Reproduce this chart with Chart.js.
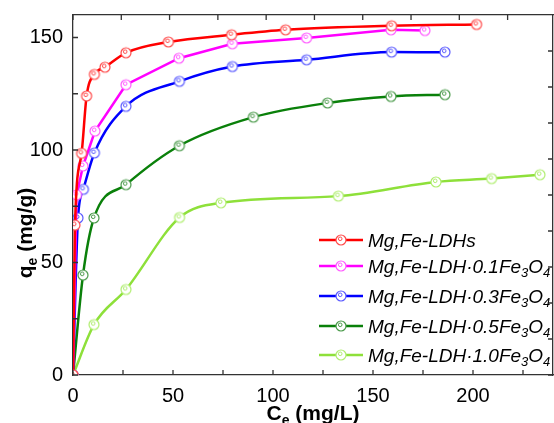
<!DOCTYPE html>
<html>
<head>
<meta charset="utf-8">
<script src="https://cdn.jsdelivr.net/npm/chart.js@4.4.1/dist/chart.umd.min.js"></script>
<style>
  html, body { margin: 0; padding: 0; background: #fff; }
  #wrap { width: 554px; height: 423px; }
</style>
</head>
<body>
<div id="wrap"><canvas id="grafico" width="554" height="423"></canvas></div>
<script>
// dados (Ce em mg/L, qe em mg/g)
const nomes = ['Mg,Fe-LDHs', 'Mg,Fe-LDH·0.1Fe_3O_4', 'Mg,Fe-LDH·0.3Fe_3O_4', 'Mg,Fe-LDH·0.5Fe_3O_4', 'Mg,Fe-LDH·1.0Fe_3O_4'];

const ceLDHs = [0, 1, 4.3, 6.8, 10.7, 16, 26.5, 47.7, 79.3, 106.3, 159.3, 201.8];
const qeLDHs = [0, 66.6, 98.5, 124, 133.6, 136.8, 143.2, 148, 151.2, 153.4, 155.2, 155.8];

const ce01 = [0, 1.8, 5, 11, 26.5, 53, 79.7, 116.8, 159, 176];
const qe01 = [0, 80, 92.9, 108.4, 129, 140.8, 147.2, 149.8, 153.4, 153.1];

const ce03 = [0, 2.5, 5.2, 10.7, 26.5, 53.2, 79.7, 116.8, 159.3, 186];
const qe03 = [0, 69.8, 82.5, 98.7, 119.4, 130.5, 137.1, 140.1, 143.5, 143.5];

const ce05 = [0, 5, 10.5, 26.5, 53.2, 90.2, 127.3, 159, 186];
const qe05 = [0, 44.4, 69.8, 84.6, 101.9, 114.6, 120.9, 123.8, 124.6];

const ce10 = [0, 10.5, 26.5, 53.3, 74, 132.7, 181.5, 209.3, 233.5];
const qe10 = [0, 22.4, 38, 70, 76.5, 79.5, 85.8, 87.3, 89];

const ticksX = [0, 25, 50, 75, 100, 125, 150, 175, 200, 225];
const ticksY = [0, 25, 50, 75, 100, 125, 150];

const coresLinha = ['#ff0000', '#ff00ff', '#0000ff', '#0a800a', '#8ee03a'];
const coresMarca = ['#ff4a4a', '#ff5cff', '#5a5aff', '#4a9a4a', '#b0ee70'];
const suave = [true, false, true, true, true];

const fonte = '"Liberation Sans", Arial, sans-serif';

// marcador: circulo aberto com bolinha dentro
function criarMarca(cor) {
    var c = document.createElement('canvas');
    c.width = 14; c.height = 14;
    var g = c.getContext('2d');
    g.fillStyle = '#fff';
    g.strokeStyle = cor;
    g.lineWidth = 1.2;
    g.beginPath(); g.arc(7, 7, 5, 0, Math.PI * 2); g.fill(); g.stroke();
    g.lineWidth = 1;
    g.beginPath(); g.arc(6.2, 5.8, 1.8, 0, Math.PI * 2); g.stroke();
    return c;
}
const marcas = coresMarca.map(criarMarca);

function pares(xs, ys) {
    return xs.map(function (x, i) { return { x: x, y: ys[i] }; });
}
const series = [pares(ceLDHs, qeLDHs), pares(ce01, qe01), pares(ce03, qe03), pares(ce05, qe05), pares(ce10, qe10)];

const datasets = series.map(function (d, i) {
    return {
        label: nomes[i],
        data: d,
        borderColor: coresLinha[i],
        borderWidth: 2.5,
        pointStyle: marcas[i],
        pointRadius: 5,
        fill: false,
        tension: suave[i] ? 0.4 : 0,
        cubicInterpolationMode: suave[i] ? 'monotone' : 'default'
    };
});

// texto com subscrito: "_3" vira 3 subscrito
function textoSub(g, txt, x, y, tam, estilo) {
    var partes = txt.split(/(_\w)/);
    partes.forEach(function (p) {
        if (!p) return;
        if (p[0] === '_') {
            g.font = estilo + ' ' + Math.round(tam * 0.68) + 'px ' + fonte;
            g.fillText(p[1], x, y + tam * 0.25);
            x += g.measureText(p[1]).width;
        } else {
            g.font = estilo + ' ' + tam + 'px ' + fonte;
            g.fillText(p, x, y);
            x += g.measureText(p).width;
        }
    });
    return x;
}
function larguraSub(g, txt, tam, estilo) {
    var w = 0;
    txt.split(/(_\w)/).forEach(function (p) {
        if (!p) return;
        if (p[0] === '_') {
            g.font = estilo + ' ' + Math.round(tam * 0.68) + 'px ' + fonte;
            w += g.measureText(p[1]).width;
        } else {
            g.font = estilo + ' ' + tam + 'px ' + fonte;
            w += g.measureText(p).width;
        }
    });
    return w;
}

// zera o espaco extra que o Chart.js reserva para os rotulos das pontas
function semPadding(sc) {
    sc.paddingTop = 0; sc.paddingBottom = 0;
    sc.paddingLeft = 0; sc.paddingRight = 0;
}

// moldura, tracinhos para dentro, legenda e titulos dos eixos
const extras = {
    id: 'extras',
    afterDraw: function (chart) {
        var g = chart.ctx;
        var a = chart.chartArea;
        var s = chart.scales;
        g.save();
        g.strokeStyle = '#333';
        g.lineWidth = 1.3;
        g.beginPath();
        s.x.ticks.forEach(function (t) {
            var px = s.x.getPixelForValue(t.value);
            g.moveTo(px, a.bottom); g.lineTo(px, a.bottom - 5);
        });
        s.x2.ticks.forEach(function (t) {
            var px = s.x2.getPixelForValue(t.value);
            g.moveTo(px, a.top); g.lineTo(px, a.top + 5);
        });
        s.y.ticks.forEach(function (t) {
            var py = s.y.getPixelForValue(t.value);
            g.moveTo(a.left, py); g.lineTo(a.left + 5, py);
        });
        s.y2.ticks.forEach(function (t) {
            var py = s.y2.getPixelForValue(t.value);
            g.moveTo(a.right, py); g.lineTo(a.right - 5, py);
        });
        g.stroke();

        // legenda
        var legY = [240, 266, 296, 326, 355];
        chart.data.datasets.forEach(function (ds, i) {
            var y = legY[i];
            g.strokeStyle = ds.borderColor;
            g.lineWidth = 2.5;
            g.beginPath(); g.moveTo(319, y); g.lineTo(363, y); g.stroke();
            g.drawImage(ds.pointStyle, 341 - 7, y - 7);
            g.fillStyle = '#000';
            g.textBaseline = 'alphabetic';
            textoSub(g, ds.label, 368, y + 6.5, 19, 'italic');
        });

        // titulos dos eixos
        g.fillStyle = '#000';
        var tx = 'C_e (mg/L)';
        var w = larguraSub(g, tx, 21, 'bold');
        textoSub(g, tx, (a.left + a.right) / 2 - w / 2, 420, 21, 'bold');

        var ty = 'q_e (mg/g)';
        w = larguraSub(g, ty, 21, 'bold');
        g.translate(32, 233);
        g.rotate(-Math.PI / 2);
        textoSub(g, ty, -w / 2, 0, 21, 'bold');
        g.restore();
    }
};

const ctx = document.getElementById('grafico');

new Chart(ctx, {
    type: 'line',
    data: { datasets: datasets },
    plugins: [extras],
    options: {
        responsive: false,
        animation: false,
        layout: { autoPadding: false, padding: { top: 15, right: 1, left: 0, bottom: 0 } },
        plugins: {
            legend: { display: false },
            tooltip: { enabled: false }
        },
        scales: {
            x: {
                type: 'linear',
                min: 0,
                max: 240,
                afterBuildTicks: function (sc) { sc.ticks = ticksX.map(function (v) { return { value: v }; }); },
                afterFit: function (sc) { sc.height = 48; semPadding(sc); },
                grid: { display: false, drawTicks: false },
                border: { display: true, color: '#333', width: 1.3 },
                ticks: {
                    padding: 9,
                    color: '#000',
                    font: { family: fonte, size: 20 },
                    maxRotation: 0,
                    autoSkip: false,
                    callback: function (v) { return v % 50 === 0 ? String(v) : ''; }
                }
            },
            x2: {
                type: 'linear',
                position: 'top',
                min: 0,
                max: 248.5,
                afterBuildTicks: function (sc) { sc.ticks = ticksX.map(function (v) { return { value: v }; }); },
                afterFit: function (sc) { sc.height = 0; semPadding(sc); },
                grid: { display: false, drawTicks: false },
                border: { display: true, color: '#333', width: 1.3 },
                ticks: { display: false }
            },
            y: {
                type: 'linear',
                min: 0,
                max: 160,
                afterBuildTicks: function (sc) { sc.ticks = ticksY.map(function (v) { return { value: v }; }); },
                afterFit: function (sc) { sc.width = 73; semPadding(sc); },
                grid: { display: false, drawTicks: false },
                border: { display: true, color: '#333', width: 1.3 },
                ticks: {
                    padding: 10,
                    color: '#000',
                    font: { family: fonte, size: 20 },
                    autoSkip: false,
                    callback: function (v) { return v % 50 === 0 ? String(v) : ''; }
                }
            },
            y2: {
                type: 'linear',
                position: 'right',
                min: 0,
                max: 250,
                afterBuildTicks: function (sc) { sc.ticks = [0, 25, 50, 75, 100, 125, 150, 175, 200, 225].map(function (v) { return { value: v }; }); },
                afterFit: function (sc) { sc.width = 0; semPadding(sc); },
                grid: { display: false, drawTicks: false },
                border: { display: true, color: '#333', width: 1.3 },
                ticks: { display: false }
            }
        }
    }
});
</script>
</body>
</html>
